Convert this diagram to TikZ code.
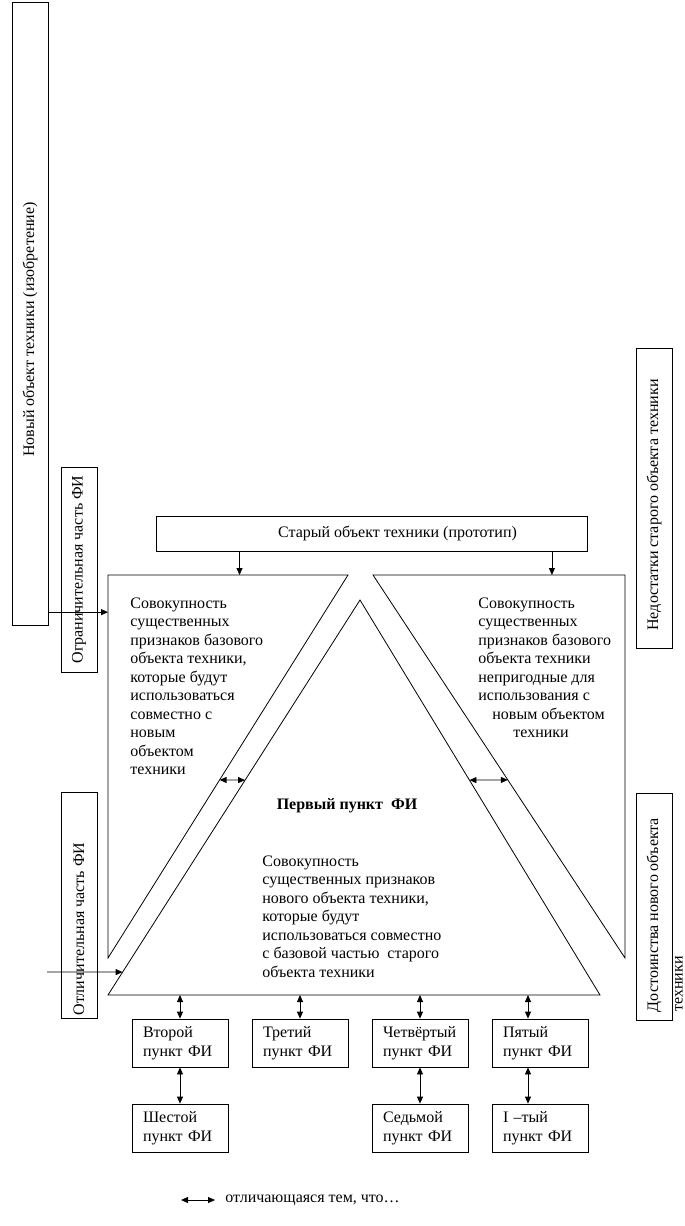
\documentclass[tikz,border=0pt]{standalone}
\usepackage{fontspec}
\setmainfont{Liberation Serif}
\usetikzlibrary{arrows.meta,calc}

\tikzset{
  box/.style={draw, inner sep=0pt},
  vbox/.style={draw, rotate=90, minimum height=36pt, inner sep=0pt},
  item/.style={draw, text width=74pt, align=left, inner xsep=11pt, inner ysep=0pt, minimum height=48pt},
  onearrow/.style={-{Triangle[length=7pt,width=6pt]}},
  twoarrow/.style={{Triangle[length=7pt,width=6pt]}-{Triangle[length=7pt,width=6pt]}},
}

\begin{document}
\begin{tikzpicture}[x=1pt,y=-1pt,line width=0.8pt,font=\fontsize{16}{18.5}\selectfont]
\useasboundingbox (0,0) rectangle (685,1226);

% side boxes
\node[vbox, minimum width=623pt] (newobj) at (30,313.5) {Новый объект техники (изобретение)\hspace*{32pt}};
\node[vbox, minimum width=205pt] (limit) at (79,569.5) {Ограничительная часть ФИ};
\node[vbox, minimum width=226pt] (dist) at (79,905) {Отличительная часть ФИ\hspace*{48pt}};
\node[vbox, minimum width=300pt] (flaws) at (654,498) {Недостатки старого объекта техники\hspace*{14pt}};
\node[vbox, minimum width=227pt] (merit) at (654,906.5) {Достоинства нового объекта\hspace*{17pt}};
\node[rotate=90, anchor=west, inner sep=0pt] (merit2) at (679,1012) {техники};

% prototype
\node[box, minimum width=431pt, minimum height=35pt] (old) at (371.5,533.5) {\hspace*{52pt}Старый объект техники (прототип)};

% the three parts
\coordinate (L1) at (108,575);
\coordinate (L2) at (348,575);
\coordinate (L3) at (108,958);
\coordinate (R1) at (373,575);
\coordinate (R2) at (625,575);
\coordinate (R3) at (625,958);
\coordinate (T1) at (360,600);
\coordinate (T2) at (600,995);
\coordinate (T3) at (108,995);
\draw (L1) -- (L2) -- (L3) -- cycle;
\draw (R1) -- (R2) -- (R3) -- cycle;
\draw (T1) -- (T2) -- (T3) -- cycle;

\node[anchor=north west, align=left, inner sep=0pt] (basetxt) at (130,597) {Совокупность\\существенных\\признаков базового\\объекта техники,\\которые будут\\использоваться\\совместно с\\новым\\объектом\\техники};
\node[anchor=north west, align=left, inner sep=0pt] (unfit) at (478,597) {Совокупность\\существенных\\признаков базового\\объекта техники\\непригодные для\\использования с\\\hspace*{14pt}новым объектом\\\hspace*{35pt}техники};
\node[font=\fontsize{16}{18.5}\selectfont\bfseries] (first) at (347,806) {Первый пункт\ \ ФИ};
\node[anchor=north west, align=left, inner sep=0pt] (newtxt) at (262,855) {Совокупность\\существенных признаков\\нового объекта техники,\\которые будут\\использоваться совместно\\с базовой частью\ \ старого\\объекта техники};

% arrows into the parts
\coordinate (lin) at ($(L1)!0.548!(L2)$);
\coordinate (rin) at ($(R1)!0.71!(R2)$);
\draw[onearrow] (old.south -| lin) -- (lin);
\draw[onearrow] (old.south -| rin) -- (rin);
\coordinate (lside) at ($(L1)!0.097!(L3)$);
\draw[onearrow] (newobj.south |- lside) -- (lside);
\coordinate (tfrom) at (47,972);
\coordinate (tin) at ($(T3)!0.058!(T1)$);
\draw[onearrow] (tfrom) -- (tin);

% "distinguished in that"
\coordinate (la) at ($(L2)!0.535!(L3)$);
\coordinate (lb) at ($(T1)!0.456!(T3)$);
\coordinate (ra) at ($(T1)!0.456!(T2)$);
\coordinate (rb) at ($(R1)!0.535!(R3)$);
\draw[twoarrow] (la) -- (lb);
\draw[twoarrow] (ra) -- (rb);

% dependent items
\foreach \nm/\x/\y/\txt in {second/180/1043/{Второй\\пункт ФИ}, third/300/1043/{Третий\\пункт ФИ},
    fourth/420/1043/{Четвёртый\\пункт ФИ}, fifth/540/1043/{Пятый\\пункт ФИ},
    sixth/180/1128/{Шестой\\пункт ФИ}, seventh/420/1128/{Седьмой\\пункт ФИ}, last/540/1128/{I –тый\\пункт ФИ}} {
  \node[item] (\nm) at (\x,\y) {\txt};
}
\foreach \nm in {second,third,fourth} {
  \draw[twoarrow] (\nm.north |- T3) -- (\nm.north);
}
\coordinate (f5) at ([xshift=-12pt]fifth.north);
\draw[twoarrow] (f5 |- T3) -- (f5);
\draw[twoarrow] (second.south) -- (sixth.north);
\draw[twoarrow] (fourth.south) -- (seventh.north);
\draw[twoarrow] (f5 |- fifth.south) -- (f5 |- last.north);

% legend
\node[anchor=west, inner sep=0pt] (legend) at (225,1200) {отличающаяся тем, что…};
\coordinate (lg1) at ([xshift=-44pt]legend.west);
\coordinate (lg2) at ([xshift=-10pt]legend.west);
\draw[twoarrow] (lg1) -- (lg2);
\end{tikzpicture}
\end{document}
